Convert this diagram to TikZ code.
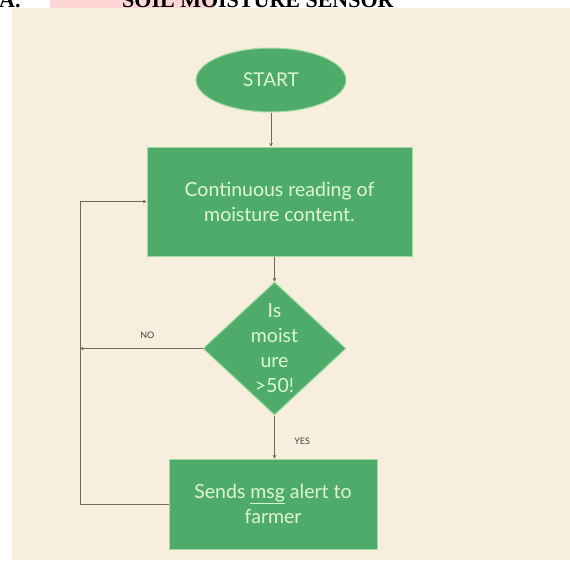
\documentclass[tikz,border=0pt]{standalone}
\usepackage{fontspec}
\setmainfont{Lato}
\newfontfamily\titlefont{Liberation Serif}
\usetikzlibrary{arrows.meta,shapes.geometric,positioning}

\definecolor{cream}{RGB}{247,238,222}
\definecolor{boxgreen}{RGB}{78,171,106}
\definecolor{boxedge}{RGB}{160,220,160}
\definecolor{boxtext}{RGB}{222,246,214}
\definecolor{linegray}{RGB}{112,102,92}
\definecolor{markpink}{RGB}{255,214,214}

\tikzset{
  flowline/.style={draw=linegray, line width=0.9pt, -{Stealth[length=3.5pt,width=3.5pt]}},
  startnode/.style={ellipse, fill=boxgreen, draw=boxedge, line width=1pt,
    minimum width=150pt, minimum height=64pt, text=boxtext, font=\fontsize{19}{22}\selectfont},
  procbox/.style={rectangle, fill=boxgreen, draw=boxedge, line width=1pt,
    text=boxtext, align=center, font=\fontsize{19.5}{25}\selectfont},
  decbox/.style={diamond, fill=boxgreen, draw=boxedge, line width=1pt, aspect=1.07,
    inner sep=-5pt, minimum width=143pt, minimum height=133pt,
    text=boxtext, align=center, font=\fontsize{19.5}{25}\selectfont},
  smalltag/.style={font=\fontsize{9}{10}\selectfont, text=black!75}
}

\begin{document}
\begin{tikzpicture}[x=1pt,y=-1pt]
\useasboundingbox (0,0) rectangle (570,560);
\fill[white] (0,0) rectangle (570,560);
\fill[cream] (12,8) rectangle (570,560);

% title, cut off at the top edge
\fill[markpink] (50,0) rectangle (215,8);
\node[anchor=base west, inner sep=0pt, font=\titlefont\bfseries\fontsize{22}{24}\selectfont] (titleA) at (-1,7) {A.};
\node[anchor=base west, inner sep=0pt, font=\titlefont\bfseries\fontsize{22}{24}\selectfont] (titletext) at (122,7) {SOIL MOISTURE SENSOR};

\node[startnode] (start) at (271,80) {START};

\node[procbox, minimum width=265pt, minimum height=109pt] (read) at (279.5,201.5)
  {Continuous reading of\\moisture content.};

\node[decbox] (check) at (274.5,348.5) {Is\\moist\\ure\\>50!};

\node[procbox, minimum width=208pt, minimum height=90pt] (alert) at (273,504)
  {Sends \underline{msg} alert to\\farmer};

\coordinate (nojoin) at (80,348.5);
\coordinate (loopleft) at (80,504);

\draw[flowline] (start) -- (start|-read.north);
\draw[flowline] (read.south-|check) -- (check.north);
\draw[flowline] (check.west) -- node[smalltag, above=6pt, pos=0.45] (notag) {NO} (nojoin);
\draw[flowline] (check.south) -- node[smalltag, right=16pt, pos=0.6] (yestag) {YES} (check.south|-alert.north);
\draw[flowline] (alert.west) -- (loopleft) |- (read.west);
\end{tikzpicture}
\end{document}
